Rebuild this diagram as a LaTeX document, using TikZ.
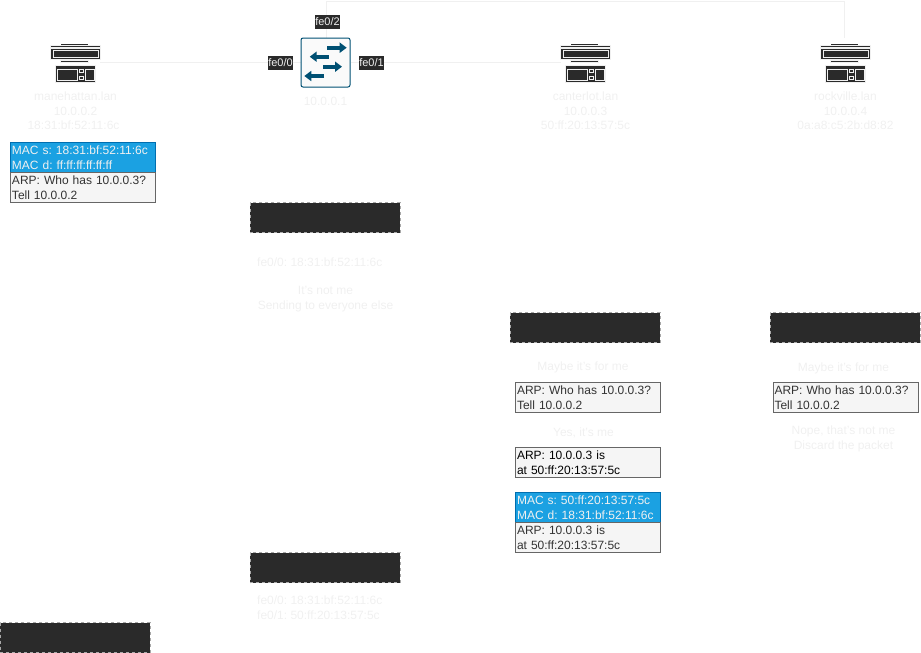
\documentclass[tikz,border=0pt]{standalone}
\usepackage{fontspec}
\setmainfont{Liberation Sans}
\usetikzlibrary{arrows.meta,backgrounds}
\frenchspacing
\definecolor{ink}{HTML}{2A2A2A}
\definecolor{pale}{HTML}{F0F0F0}
\definecolor{swblue}{HTML}{005073}
\definecolor{macfill}{HTML}{1BA1E2}
\definecolor{macline}{HTML}{006EAF}
\definecolor{arpfill}{HTML}{F5F5F5}
\definecolor{arpline}{HTML}{666666}
\definecolor{hiddenline}{HTML}{A8A8A8}
\tikzset{
  base/.style={font=\fontsize{12}{14.5}\selectfont},
  paletext/.style={base,text=pale,inner sep=0pt,align=center},
  paleleft/.style={base,text=pale,inner sep=0pt,align=left,font=\fontsize{12}{15}\selectfont},
  hostbox/.style={minimum width=49pt,minimum height=39pt,inner sep=0pt},
  switchbox/.style={draw=swblue,fill=black!2,line width=1pt,rounded corners=2pt,minimum size=49pt,inner sep=0pt},
  port/.style={fill=ink,text=pale,inner sep=0pt,minimum width=25pt,minimum height=14pt,font=\fontsize{11}{13}\selectfont},
  wire/.style={draw=pale,line width=1pt},
  swarrow/.style={draw=swblue,line width=3.6pt,-{Triangle[length=7pt,width=10pt]}},
  hidden/.style={draw=hiddenline,fill=ink,line width=0.8pt,dash pattern=on 3pt off 3pt,minimum width=150pt,minimum height=30pt,inner sep=0pt},
  packet/.style={line width=1pt,minimum height=30pt,text width=142pt,inner xsep=1.5pt,inner ysep=0pt,align=left,font=\fontsize{12}{15}\selectfont},
  machead/.style={packet,draw=macline,fill=macfill,text=pale},
  arpbody/.style={packet,draw=arpline,fill=arpfill,text=black!80},
  arpdark/.style={packet,draw=arpline,fill=arpfill,text=black},
  iconfill/.style={fill=ink,draw=pale,line width=1pt},
  iconline/.style={draw=pale,line width=1pt},
  computer/.pic={
    \fill[ink] (-14.5,-19) rectangle (12.5,-18.2);
    \path[iconfill] (-25,-17.5) rectangle (24.5,-15);
    \path[iconfill] (-25,-14.5) rectangle (24.5,-3);
    \path[iconline] (-22.5,-12.5) rectangle (22.5,-4.8);
    \path[iconfill] (-15,-2.5) rectangle (13,0);
    \path[iconfill] (-20,2.5) rectangle (20,20);
    \path[iconline] (-18.3,6.8) rectangle (2.2,17.5);
    \path[iconline] (3.8,7.2) rectangle (7.8,10.2);
    \path[iconline] (3.8,14.2) rectangle (7.8,17.2);
    \path[iconline] (9.8,6.8) rectangle (18.5,17.5);
  }
}
\begin{document}
\begin{tikzpicture}[x=1pt,y=-1pt]
\useasboundingbox (0,0) rectangle (921,653);

% hosts
\node[hostbox] (manehattan) at (75.5,62.5) {};
\node[hostbox] (canterlot) at (585.5,62.5) {};
\node[hostbox] (rockville) at (845.5,62.5) {};
\pic at (manehattan.center) {computer};
\pic at (canterlot.center) {computer};
\pic at (rockville.center) {computer};

\node[paletext] (manelabel) at (75.5,110.8) {manehattan.lan\\10.0.0.2\\\hspace*{-4pt}18:31:bf:52:11:6c};
\node[paletext] (canterlabel) at (585.5,110.8) {canterlot.lan\\10.0.0.3\\50:ff:20:13:57:5c};
\node[paletext] (rocklabel) at (845.5,110.8) {rockville.lan\\10.0.0.4\\0a:a8:c5:2b:d8:82};

% switch
\node[switchbox] (switch) at (325.5,62.5) {};
\coordinate (a1s) at (327.3,47.7); \coordinate (a1e) at (346.7,47.7);
\coordinate (a2s) at (328.7,56.7); \coordinate (a2e) at (309.7,56.7);
\coordinate (a3s) at (323,66.7);   \coordinate (a3e) at (342,66.7);
\coordinate (a4s) at (324,76);     \coordinate (a4e) at (304.3,76);
\draw[swarrow] (a1s) -- (a1e);
\draw[swarrow] (a2s) -- (a2e);
\draw[swarrow] (a3s) -- (a3e);
\draw[swarrow] (a4s) -- (a4e);
\node[paletext] (swlabel) at (325.5,101) {10.0.0.1};

% ports
\node[port] (fe00) at (280.5,62.5) {fe0/0};
\node[port] (fe01) at (371.5,62.5) {fe0/1};
\node[port] (fe02) at (327.5,21.5) {fe0/2};

% connectors
\coordinate (topleft) at (326,1);
\coordinate (topright) at (844.5,1);
\coordinate (rockin) at (844.5,38);
\begin{pgfonlayer}{background}
\draw[wire] (manehattan.east |- 0,62.5) -- (switch.west |- 0,62.5);
\draw[wire] (switch.east |- 0,62.5) -- (canterlot.west |- 0,62.5);
\draw[wire] (switch.north -| topleft) -- (topleft) -- (topright) -- (rockin);
\end{pgfonlayer}

% packets
\node[machead] (p1h) at (83,157.5) {MAC s: 18:31:bf:52:11:6c\\MAC d: ff:ff:ff:ff:ff:ff};
\node[arpbody] (p1b) at (83,187.5) {ARP: Who has 10.0.0.3?\\Tell 10.0.0.2};
\node[arpbody] (p2) at (588,397.5) {ARP: Who has 10.0.0.3?\\Tell 10.0.0.2};
\node[arpdark] (p3) at (588,462.5) {ARP: 10.0.0.3 is\\at 50:ff:20:13:57:5c};
\node[machead] (p4h) at (588,507.5) {MAC s: 50:ff:20:13:57:5c\\MAC d: 18:31:bf:52:11:6c};
\node[arpbody] (p4b) at (588,537.5) {ARP: 10.0.0.3 is\\at 50:ff:20:13:57:5c};
\node[arpbody] (p5) at (845.5,397.5) {ARP: Who has 10.0.0.3?\\Tell 10.0.0.2};

% redacted boxes
\node[hidden] (h1) at (325.2,217.7) {};
\node[hidden] (h2) at (585.2,327.7) {};
\node[hidden] (h3) at (845.2,327.7) {};
\node[hidden] (h4) at (325.2,567.7) {};
\node[hidden] (h5) at (75.2,637.7) {};

% notes
\node[paleleft,anchor=west] (n1) at (257,262) {fe0/0: 18:31:bf:52:11:6c};
\node[paletext,font=\fontsize{12}{15}\selectfont] (n2) at (325.5,299) {It's not me\\Sending to everyone else};
\node[paletext] (n3) at (583,367) {Maybe it's for me};
\node[paletext] (n4) at (583.5,433) {Yes, it's me};
\node[paletext] (n5) at (843.5,368) {Maybe it's for me};
\node[paletext,font=\fontsize{12}{15}\selectfont] (n6) at (843.5,438.5) {Nope, that's not me\\Discard the packet};
\node[paleleft,anchor=west] (n7) at (257,607.5) {fe0/0: 18:31:bf:52:11:6c\\fe0/1: 50:ff:20:13:57:5c};
\end{tikzpicture}
\end{document}
